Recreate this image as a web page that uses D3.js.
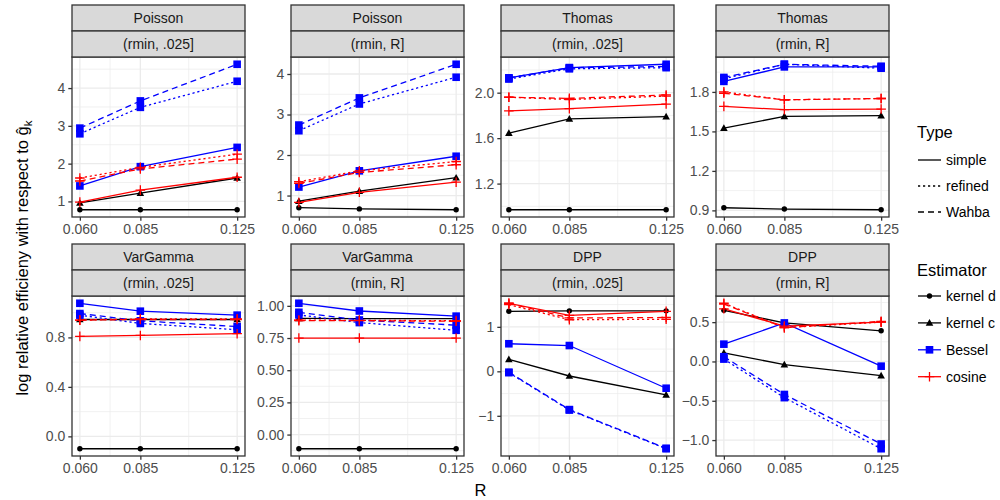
<!DOCTYPE html>
<html>
<head>
<meta charset="utf-8">
<script src="https://cdn.jsdelivr.net/npm/d3@7"></script>
<style>
  body { margin: 0; background: #fff; }
  svg { display: block; font-family: "Liberation Sans", Arial, Helvetica, sans-serif; }
</style>
</head>
<body>
<svg id="chart" width="1000" height="500"></svg>
<script>
// ---------------- DATA ----------------
const Rvals = [0.060, 0.085, 0.125];
const models = ["Poisson", "Poisson", "Thomas", "Thomas", "VarGamma", "VarGamma", "DPP", "DPP"];
const ranges = ["(rmin, .025]", "(rmin, R]", "(rmin, .025]", "(rmin, R]", "(rmin, .025]", "(rmin, R]", "(rmin, .025]", "(rmin, R]"];

// one entry per panel, each with values at R = 0.060, 0.085, 0.125
const kernelD = [
  [0.78, 0.78, 0.78], [0.70, 0.67, 0.65], [0.97, 0.97, 0.97], [0.92, 0.91, 0.905],
  [-0.10, -0.10, -0.10], [-0.11, -0.11, -0.11], [1.35, 1.36, 1.36], [0.65, 0.49, 0.39]
];
const kernelC = [
  [0.96, 1.22, 1.62], [0.86, 1.11, 1.44], [1.644, 1.77, 1.79], [1.525, 1.614, 1.62],
  [0.945, 0.945, 0.945], [0.903, 0.90, 0.90], [0.27, -0.105, -0.53], [0.11, -0.04, -0.18]
];
const besselSimple = [
  [1.41, 1.92, 2.43], [1.21, 1.61, 1.97], [2.13, 2.22, 2.25], [1.88, 1.99, 1.99],
  [1.076, 1.012, 0.98], [1.02, 0.96, 0.92], [0.62, 0.58, -0.38], [0.22, 0.49, -0.06]
];
const besselRefined = [
  [2.79, 3.49, 4.18], [2.60, 3.26, 3.92], [2.12, 2.21, 2.22], [1.90, 2.01, 1.98],
  [0.98, 0.913, 0.862], [0.93, 0.87, 0.81], [-0.03, -0.87, -1.74], [0.03, -0.46, -1.11]
];
const besselWahba = [
  [2.94, 3.66, 4.63], [2.74, 3.41, 4.24], [2.13, 2.22, 2.23], [1.91, 2.01, 1.995],
  [0.993, 0.934, 0.888], [0.95, 0.89, 0.85], [-0.02, -0.86, -1.73], [0.06, -0.42, -1.05]
];
const cosineSimple = [
  [0.98, 1.30, 1.64], [0.83, 1.08, 1.33], [1.84, 1.86, 1.90], [1.69, 1.665, 1.67],
  [0.808, 0.816, 0.83], [0.75, 0.75, 0.75], [1.53, 1.26, 1.35], [0.67, 0.45, 0.50]
];
const cosineRefined = [
  [1.62, 1.90, 2.25], [1.34, 1.61, 1.84], [1.96, 1.94, 1.97], [1.80, 1.74, 1.75],
  [0.94, 0.95, 0.95], [0.89, 0.887, 0.885], [1.50, 1.16, 1.17], [0.74, 0.43, 0.50]
];
const cosineWahba = [
  [1.54, 1.86, 2.12], [1.30, 1.57, 1.76], [1.96, 1.95, 1.98], [1.79, 1.74, 1.75],
  [0.94, 0.945, 0.945], [0.885, 0.885, 0.88], [1.53, 1.20, 1.21], [0.73, 0.43, 0.51]
];

const yTicks = [
  [1, 2, 3, 4], [1, 2, 3, 4], [1.2, 1.6, 2.0], [0.9, 1.2, 1.5, 1.8],
  [0.0, 0.4, 0.8], [0.00, 0.25, 0.50, 0.75, 1.00], [-1, 0, 1], [-1.0, -0.5, 0.0, 0.5]
];
const yTickFormats = [".0f", ".0f", ".1f", ".1f", ".1f", ".2f", ".0f", ".1f"];
const xTickFormat = ".3f";

const typeLevels = ["simple", "refined", "Wahba"];
const estimatorLevels = ["kernel d", "kernel c", "Bessel", "cosine"];

// ---------------- STYLE ----------------
const colorOf = { "kernel d": "#000000", "kernel c": "#000000", "Bessel": "#0000FF", "cosine": "#FF0000" };
const shapeOf = { "kernel d": "circle", "kernel c": "triangle", "Bessel": "square", "cosine": "plus" };
const dashOf = { "simple": null, "refined": "2.2,2.8", "Wahba": "6,4" };

const series = [
  { est: "kernel d", type: "simple", data: kernelD },
  { est: "kernel c", type: "simple", data: kernelC },
  { est: "Bessel", type: "simple", data: besselSimple },
  { est: "Bessel", type: "refined", data: besselRefined },
  { est: "Bessel", type: "Wahba", data: besselWahba },
  { est: "cosine", type: "simple", data: cosineSimple },
  { est: "cosine", type: "refined", data: cosineRefined },
  { est: "cosine", type: "Wahba", data: cosineWahba }
];

const svg = d3.select("#chart");
const FONT = '"Liberation Sans", Arial, Helvetica, sans-serif';
const LW = 1.3;

const colX = [72, 291, 501, 716];
const panelW = 173;
const rowTop = [5, 244];
const stripH = 26;
const panelH = 160;

function drawShape(g, shape, x, y, color) {
  if (shape === "circle") {
    g.append("circle").attr("cx", x).attr("cy", y).attr("r", 2.7).attr("fill", color);
  } else if (shape === "triangle") {
    const s = 3.8;
    g.append("path").attr("d", `M${x},${y - s}L${x + s},${y + s * 0.75}L${x - s},${y + s * 0.75}Z`).attr("fill", color);
  } else if (shape === "square") {
    const s = 3.8;
    g.append("rect").attr("x", x - s).attr("y", y - s).attr("width", 2 * s).attr("height", 2 * s).attr("fill", color);
  } else if (shape === "plus") {
    const s = 4.8;
    g.append("path").attr("d", `M${x - s},${y}H${x + s}M${x},${y - s}V${y + s}`).attr("stroke", color).attr("stroke-width", LW).attr("fill", "none");
  }
}

for (let p = 0; p < 8; p++) {
  const col = p % 4, row = Math.floor(p / 4);
  const x0 = colX[col];
  const top = rowTop[row];
  const py0 = top + 2 * stripH;
  const py1 = py0 + panelH;
  const g = svg.append("g");

  // scales
  const xr = Rvals[Rvals.length - 1] - Rvals[0];
  const x = d3.scaleLinear().domain([Rvals[0] - 0.05 * xr, Rvals[Rvals.length - 1] + 0.05 * xr]).range([x0, x0 + panelW]);
  const allV = series.flatMap(s => s.data[p]);
  const lo = d3.min(allV), hi = d3.max(allV), yr = hi - lo;
  const y = d3.scaleLinear().domain([lo - 0.05 * yr, hi + 0.05 * yr]).range([py1, py0]);

  g.append("rect").attr("x", x0).attr("y", py0).attr("width", panelW).attr("height", panelH).attr("fill", "#fff");

  // minor grid
  const yt = yTicks[p];
  const step = yt[1] - yt[0];
  const yMinor = [];
  for (let v = yt[0] - step / 2; v <= yt[yt.length - 1] + step; v += step) {
    if (v >= y.domain()[0] && v <= y.domain()[1]) yMinor.push(v);
  }
  const xMinor = [];
  for (let i = 0; i < Rvals.length - 1; i++) xMinor.push((Rvals[i] + Rvals[i + 1]) / 2);
  g.selectAll(".ymin").data(yMinor).enter().append("line")
    .attr("x1", x0).attr("x2", x0 + panelW).attr("y1", d => y(d)).attr("y2", d => y(d))
    .attr("stroke", "#EBEBEB").attr("stroke-width", 0.7);
  g.selectAll(".xmin").data(xMinor).enter().append("line")
    .attr("y1", py0).attr("y2", py1).attr("x1", d => x(d)).attr("x2", d => x(d))
    .attr("stroke", "#EBEBEB").attr("stroke-width", 0.7);
  // major grid
  g.selectAll(".ymaj").data(yt).enter().append("line")
    .attr("x1", x0).attr("x2", x0 + panelW).attr("y1", d => y(d)).attr("y2", d => y(d))
    .attr("stroke", "#EBEBEB").attr("stroke-width", 1.3);
  g.selectAll(".xmaj").data(Rvals).enter().append("line")
    .attr("y1", py0).attr("y2", py1).attr("x1", d => x(d)).attr("x2", d => x(d))
    .attr("stroke", "#EBEBEB").attr("stroke-width", 1.3);

  // data
  const clipId = "clip" + p;
  svg.append("clipPath").attr("id", clipId).append("rect").attr("x", x0).attr("y", py0).attr("width", panelW).attr("height", panelH);
  const dg = g.append("g").attr("clip-path", `url(#${clipId})`);
  const line = d3.line().x((d, i) => x(Rvals[i])).y(d => y(d));
  series.forEach(s => {
    dg.append("path").attr("d", line(s.data[p]))
      .attr("fill", "none").attr("stroke", colorOf[s.est]).attr("stroke-width", LW)
      .attr("stroke-dasharray", dashOf[s.type]);
  });
  series.forEach(s => {
    s.data[p].forEach((v, i) => drawShape(dg, shapeOf[s.est], x(Rvals[i]), y(v), colorOf[s.est]));
  });

  g.append("rect").attr("x", x0).attr("y", py0).attr("width", panelW).attr("height", panelH)
    .attr("fill", "none").attr("stroke", "#333333").attr("stroke-width", 1.3);

  // strips
  [models[p], ranges[p]].forEach((txt, k) => {
    const sy = top + k * stripH;
    g.append("rect").attr("x", x0).attr("y", sy).attr("width", panelW).attr("height", stripH)
      .attr("fill", "#D9D9D9").attr("stroke", "#333333").attr("stroke-width", 1.3);
    g.append("text").attr("x", x0 + panelW / 2).attr("y", sy + stripH / 2).attr("dy", "0.35em")
      .attr("text-anchor", "middle").attr("font-size", 14).attr("fill", "#1A1A1A").text(txt);
  });

  // y axis
  const yAxis = d3.axisLeft(y).tickValues(yt).tickFormat(d3.format(yTickFormats[p])).tickSizeOuter(0).tickSize(3.7).tickPadding(3);
  const ya = g.append("g").attr("transform", `translate(${x0},0)`).call(yAxis);
  ya.select(".domain").remove();
  ya.selectAll(".tick line").attr("stroke", "#333333").attr("stroke-width", 1.3);
  ya.selectAll(".tick text").attr("fill", "#4D4D4D").attr("font-size", 14).attr("font-family", FONT);

  // x axis
  const xAxis = d3.axisBottom(x).tickValues(Rvals).tickFormat(d3.format(xTickFormat)).tickSizeOuter(0).tickSize(3.7).tickPadding(3.5);
  const xa = g.append("g").attr("transform", `translate(0,${py1})`).call(xAxis);
  xa.select(".domain").remove();
  xa.selectAll(".tick line").attr("stroke", "#333333").attr("stroke-width", 1.3);
  xa.selectAll(".tick text").attr("fill", "#4D4D4D").attr("font-size", 14).attr("font-family", FONT);
}

// axis titles
svg.append("text").attr("x", 480.5).attr("y", 496).attr("text-anchor", "middle")
  .attr("font-size", 16.5).attr("fill", "#000").text("R");

const yTitle = svg.append("text").attr("transform", "translate(28,258) rotate(-90)")
  .attr("text-anchor", "middle").attr("font-size", 16.5).attr("fill", "#000");
yTitle.append("tspan").text("log relative efficieny with respect to ");
yTitle.append("tspan").text("\u011D");
yTitle.append("tspan").attr("dy", 4).attr("font-size", 11.5).text("k");

// legends
const lg = svg.append("g");
lg.append("text").attr("x", 917).attr("y", 138).attr("font-size", 16.5).attr("fill", "#000").text("Type");
typeLevels.forEach((t, i) => {
  const yy = 160 + i * 26;
  lg.append("line").attr("x1", 918).attr("x2", 941).attr("y1", yy).attr("y2", yy)
    .attr("stroke", "#000").attr("stroke-width", LW).attr("stroke-dasharray", dashOf[t]);
  lg.append("text").attr("x", 946).attr("y", yy).attr("dy", "0.35em").attr("font-size", 14).attr("fill", "#000").text(t);
});
lg.append("text").attr("x", 917).attr("y", 276).attr("font-size", 16.5).attr("fill", "#000").text("Estimator");
estimatorLevels.forEach((e, i) => {
  const yy = 296 + i * 26.9;
  lg.append("line").attr("x1", 918).attr("x2", 941).attr("y1", yy).attr("y2", yy)
    .attr("stroke", colorOf[e]).attr("stroke-width", LW);
  drawShape(lg, shapeOf[e], 929.5, yy, colorOf[e]);
  lg.append("text").attr("x", 946).attr("y", yy).attr("dy", "0.35em").attr("font-size", 14).attr("fill", "#000").text(e);
});
</script>
</body>
</html>
